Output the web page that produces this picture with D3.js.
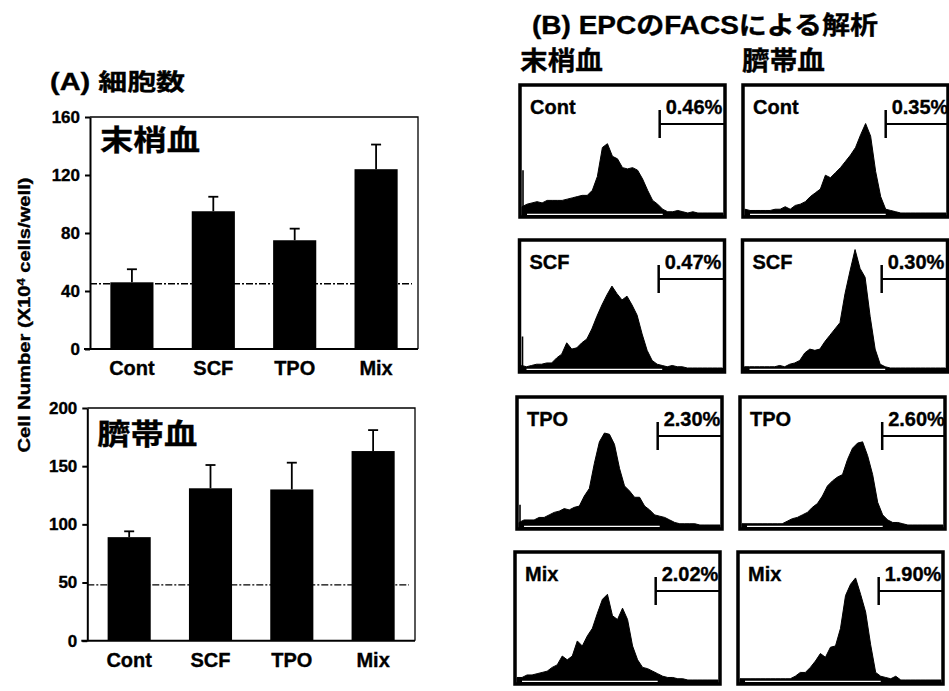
<!DOCTYPE html>
<html><head><meta charset="utf-8">
<script src="https://cdn.jsdelivr.net/npm/d3@7"></script>
<style>
body{margin:0;background:#fff;}
svg{display:block;}
svg text{stroke:#000;stroke-width:0.35px;}
</style></head><body>
<svg id="chart" width="949" height="691"></svg>
<script>
// ---------- DATA ----------
const categories = ["Cont", "SCF", "TPO", "Mix"];
// (A) cell number, x10^4 cells/well
const pbMean = [46, 95, 75, 124];      // 末梢血
const pbSD   = [9, 10, 8, 17];
const pbBaseline = 45;
const pbTicks = [0, 40, 80, 120, 160];
const cbMean = [89, 131, 130, 163];    // 臍帯血
const cbSD   = [5, 20, 23, 18];
const cbBaseline = 48;
const cbTicks = [0, 50, 100, 150, 200];

// (B) FACS histograms (relative height 0-100 per channel bin 0..40)
const facsLabels = ["Cont", "SCF", "TPO", "Mix"];
const pbPercent = [0.46, 0.47, 2.30, 2.02];
const cbPercent = [0.35, 0.30, 2.60, 1.90];
const pbGate = [27.4, 27.3, 27.6, 27.6];
const cbGate = [28.0, 27.3, 27.9, 27.6];
const pbSpike = [34, 25, 16, 0];

const pbHistCont = [5,7,8,9,8,10,10,10,10,11,12,13,14,14,18,29,52,55,45,43,36,35,36,34,27,18,10,7,3,1,1,2,1,0,1,0,0,0,0,0,0];
const pbHistSCF  = [2,1,2,3,3,4,4,8,11,20,15,16,20,23,31,41,50,58,65,59,54,57,50,42,27,14,6,3,2,1,2,1,1,0,0,0,0,0,0,0,0];
const pbHistTPO  = [2,4,4,4,6,6,8,10,11,13,12,14,15,23,29,49,66,73,72,64,45,31,27,22,22,15,12,8,7,6,4,2,1,1,1,1,0,0,0,0,0];
const pbHistMix  = [2,2,4,4,5,6,7,10,12,19,16,19,31,27,35,41,53,64,68,51,48,57,48,27,16,10,9,7,5,3,2,2,1,1,0,0,0,0,0,0,0];
const cbHistCont = [3,2,2,2,2,2,3,3,5,3,6,7,9,13,16,19,30,28,32,36,41,46,52,62,71,61,33,13,3,2,1,0,0,0,0,0,0,0,0,0,0];
const cbHistSCF  = [1,1,1,1,1,1,1,2,1,3,4,6,12,15,14,15,21,26,31,36,59,77,94,79,72,41,15,3,1,0,0,0,0,0,0,0,0,0,0,0,0];
const cbHistTPO  = [1,1,1,1,1,1,1,1,1,3,5,6,8,10,14,17,23,31,35,38,40,52,61,65,66,55,40,18,8,4,2,2,1,0,0,0,0,0,0,0,0];
const cbHistMix  = [1,1,1,1,1,1,1,1,1,1,1,3,6,6,10,15,21,18,26,27,41,67,76,81,68,54,28,6,3,2,1,3,0,0,0,0,0,0,0,0,0];

// ---------- DRAWING ----------
const FONT = "'Liberation Sans', Arial, 'Noto Sans CJK JP', sans-serif";
const svg = d3.select("#chart").attr("font-family", FONT).attr("font-weight", "bold");

function barPanel(o) {
  const g = svg.append("g");
  const x = d3.scaleBand().domain(categories).range([o.left, o.right]).paddingInner(0.47).paddingOuter(0.25);
  const y = d3.scaleLinear().domain([0, o.max]).range([o.bottom, o.top]);

  g.append("path").attr("d", `M${o.left},${o.top}H${o.right}V${o.bottom}`)
    .attr("fill", "none").attr("stroke", "#000").attr("stroke-width", 1.3);

  g.append("line").attr("x1", o.left).attr("x2", o.right - 6)
    .attr("y1", y(o.base)).attr("y2", y(o.base))
    .attr("stroke", "#000").attr("stroke-width", 1.3).attr("stroke-dasharray", "7,2,2,2");

  g.selectAll("rect.bar").data(o.means).join("rect").attr("class", "bar")
    .attr("x", (d, i) => x(categories[i])).attr("width", x.bandwidth())
    .attr("y", d => y(d)).attr("height", d => y(0) - y(d)).attr("fill", "#000");

  const cx = i => x(categories[i]) + x.bandwidth() / 2;
  g.selectAll("line.err").data(o.means).join("line").attr("class", "err")
    .attr("x1", (d, i) => cx(i)).attr("x2", (d, i) => cx(i))
    .attr("y1", d => y(d)).attr("y2", (d, i) => y(d + o.sds[i]))
    .attr("stroke", "#000").attr("stroke-width", 1.8);
  g.selectAll("line.cap").data(o.means).join("line").attr("class", "cap")
    .attr("x1", (d, i) => cx(i) - 5).attr("x2", (d, i) => cx(i) + 5)
    .attr("y1", (d, i) => y(d + o.sds[i])).attr("y2", (d, i) => y(d + o.sds[i]))
    .attr("stroke", "#000").attr("stroke-width", 1.8);

  const ax = g.append("g").attr("transform", `translate(${o.left},0)`)
    .call(d3.axisLeft(y).tickValues(o.ticks).tickSize(5).tickSizeOuter(0).tickPadding(5));
  ax.attr("font-family", FONT);
  ax.select(".domain").attr("stroke-width", 2);
  ax.selectAll(".tick line").attr("stroke-width", 2);
  ax.selectAll(".tick text").attr("font-size", 17).attr("font-weight", "bold").attr("fill", "#000");

  g.append("line").attr("x1", o.left - 6).attr("x2", o.right)
    .attr("y1", o.bottom).attr("y2", o.bottom).attr("stroke", "#000").attr("stroke-width", 2);

  g.selectAll("text.cat").data(categories).join("text").attr("class", "cat")
    .attr("x", (d, i) => cx(i)).attr("y", o.bottom + 26)
    .attr("text-anchor", "middle").attr("font-size", 20).text(d => d);

  g.append("text").attr("x", o.left + 10).attr("y", o.titleY)
    .attr("font-size", 29).attr("textLength", 100).attr("lengthAdjust", "spacingAndGlyphs")
    .text(o.title);
}

barPanel({left: 90, right: 418, top: 117, bottom: 349, max: 160, ticks: pbTicks,
  means: pbMean, sds: pbSD, base: pbBaseline, title: "末梢血", titleY: 151});
barPanel({left: 87.3, right: 415, top: 408, bottom: 640.7, max: 200, ticks: cbTicks,
  means: cbMean, sds: cbSD, base: cbBaseline, title: "臍帯血", titleY: 445});

svg.append("text").attr("x", 50).attr("y", 90).attr("font-size", 23)
  .attr("textLength", 135).attr("lengthAdjust", "spacingAndGlyphs").text("(A) 細胞数");

const yl = svg.append("text").attr("transform", "translate(30,315) rotate(-90)")
  .attr("text-anchor", "middle").attr("font-size", 16)
  .attr("textLength", 275).attr("lengthAdjust", "spacingAndGlyphs");
yl.append("tspan").text("Cell Number (X10");
yl.append("tspan").attr("font-size", 10).attr("baseline-shift", "super").text("4");
yl.append("tspan").text(" cells/well)");

// Panel B
svg.append("text").attr("x", 532).attr("y", 34).attr("font-size", 25)
  .attr("textLength", 346).attr("lengthAdjust", "spacingAndGlyphs").text("(B) EPCのFACSによる解析");
svg.append("text").attr("x", 520).attr("y", 70).attr("font-size", 26)
  .attr("textLength", 83).attr("lengthAdjust", "spacingAndGlyphs").text("末梢血");
svg.append("text").attr("x", 742).attr("y", 70).attr("font-size", 26)
  .attr("textLength", 83).attr("lengthAdjust", "spacingAndGlyphs").text("臍帯血");

const rowsY = [85, 240, 397, 552];
const rowShift = [2, 1.5, -1, -3];
const colX = [518, 741];
const boxW = 205, boxH = 132;
const columns = [
  {hists: [pbHistCont, pbHistSCF, pbHistTPO, pbHistMix], pct: pbPercent, gate: pbGate, spike: pbSpike},
  {hists: [cbHistCont, cbHistSCF, cbHistTPO, cbHistMix], pct: cbPercent, gate: cbGate, spike: [0, 0, 0, 0]}
];

columns.forEach((col, c) => {
  col.hists.forEach((h, r) => {
    const x0 = colX[c] + rowShift[r], y0 = rowsY[r];
    const g = svg.append("g");
    const xs = d3.scaleLinear().domain([0, h.length - 1]).range([x0 + 2, x0 + boxW - 2]);
    const ys = d3.scaleLinear().domain([0, 100]).range([y0 + boxH - 4, y0 + 2]);
    const id = `clip${c}${r}`;
    svg.append("clipPath").attr("id", id).append("rect")
      .attr("x", x0).attr("y", y0).attr("width", boxW).attr("height", boxH);
    const area = d3.area().x((d, i) => xs(i)).y0(y0 + boxH).y1(d => ys(d));
    g.append("path").datum(h).attr("d", area).attr("fill", "#000")
      .attr("stroke", "#000").attr("stroke-width", 1).attr("clip-path", `url(#${id})`);
    if (col.spike[r] > 0) {
      g.append("line").attr("x1", xs(0) + 1).attr("x2", xs(0) + 1)
        .attr("y1", ys(0)).attr("y2", ys(col.spike[r])).attr("stroke", "#000").attr("stroke-width", 1.6);
    }
    g.append("line").attr("x1", xs(1)).attr("x2", xs(28))
      .attr("y1", y0 + boxH - 2.6).attr("y2", y0 + boxH - 2.6).attr("stroke", "#fff").attr("stroke-width", 1.1);
    g.append("rect").attr("x", x0).attr("y", y0).attr("width", boxW).attr("height", boxH)
      .attr("fill", "none").attr("stroke", "#000").attr("stroke-width", 3.5);
    const gx = xs(col.gate[r]);
    g.append("line").attr("x1", gx).attr("x2", gx).attr("y1", y0 + 25).attr("y2", y0 + 53)
      .attr("stroke", "#000").attr("stroke-width", 2.5);
    g.append("line").attr("x1", gx).attr("x2", x0 + boxW).attr("y1", y0 + 39).attr("y2", y0 + 39)
      .attr("stroke", "#000").attr("stroke-width", 2);
    g.append("text").attr("x", x0 + 10).attr("y", y0 + 29).attr("font-size", 20).text(facsLabels[r]);
    g.append("text").attr("x", gx + 6).attr("y", y0 + 29).attr("font-size", 20)
      .text(col.pct[r].toFixed(2) + "%");
  });
});
</script>
</body></html>
